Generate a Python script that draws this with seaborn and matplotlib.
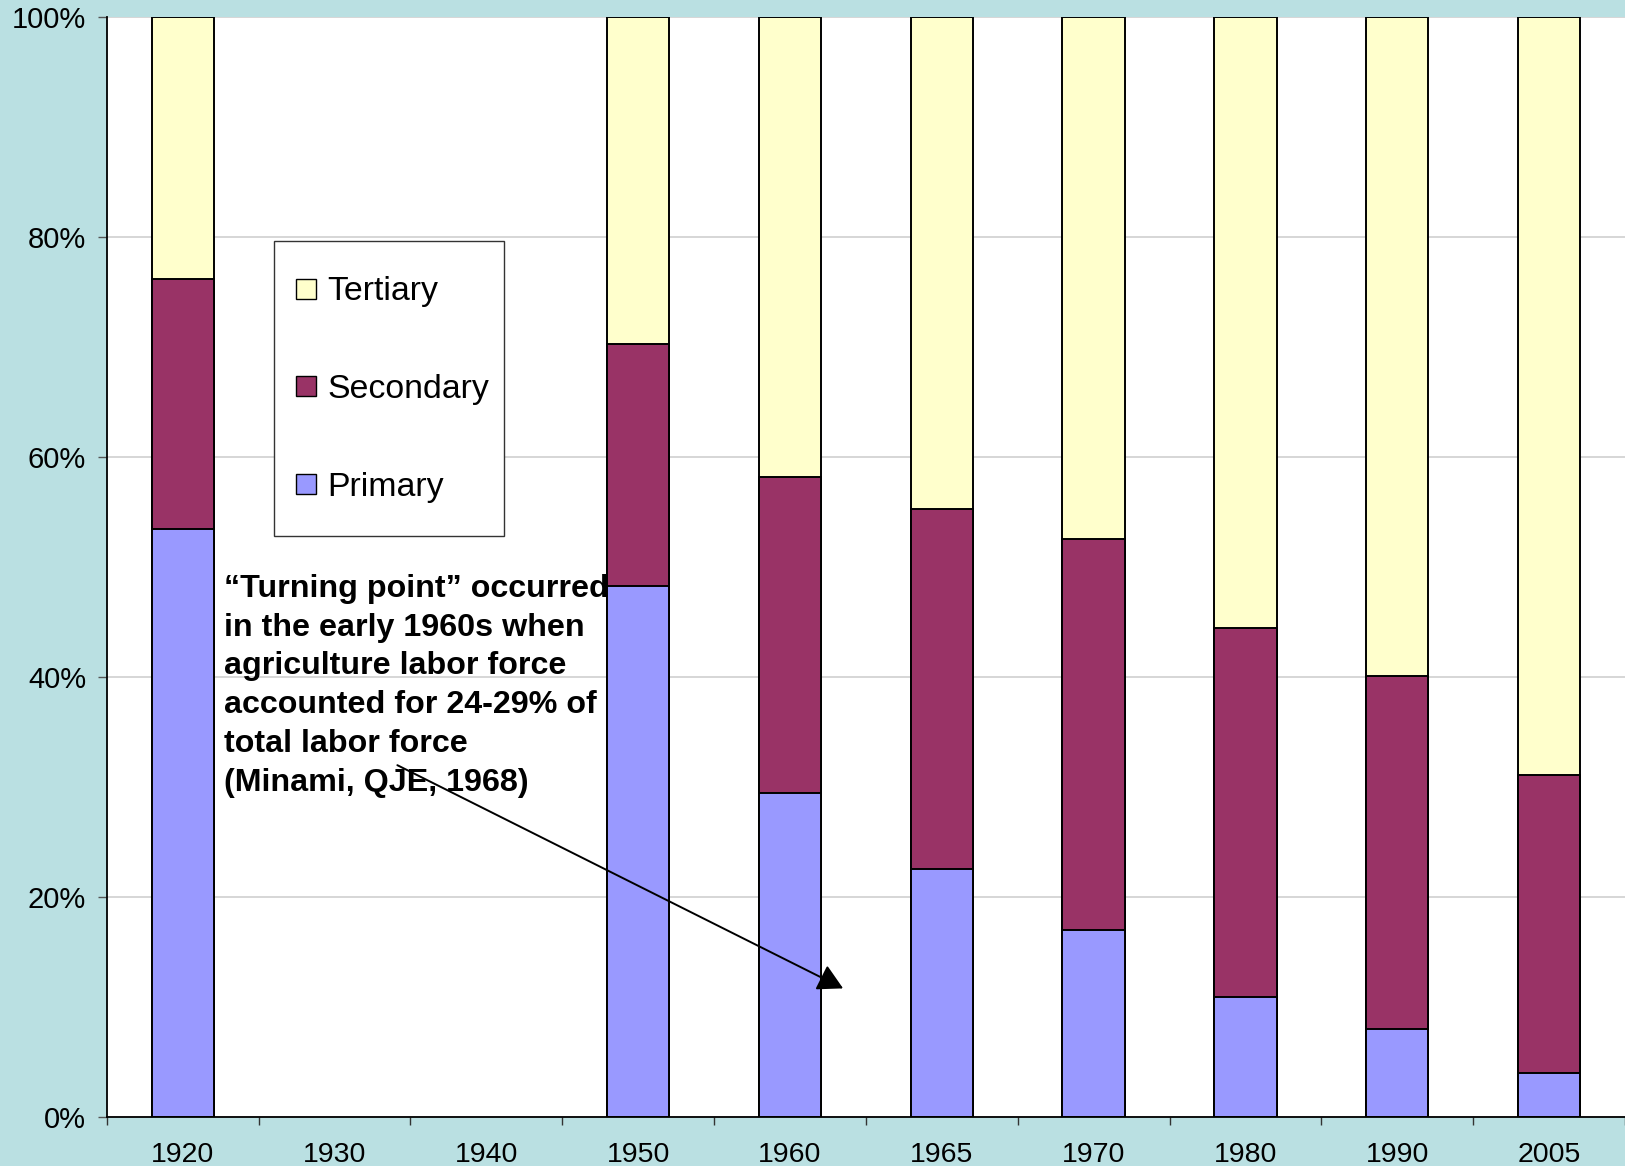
import numpy as np
import pandas as pd
import seaborn as sns
import matplotlib.pyplot as plt
from matplotlib.lines import Line2D
from matplotlib.patches import Rectangle
from matplotlib.ticker import FixedLocator, PercentFormatter

years = ["1920", "1930", "1940", "1950", "1960", "1965", "1970", "1980", "1990", "2005"]
primary = [53.5, np.nan, np.nan, 48.3, 29.5, 22.6, 17.0, 10.9, 8.0, 4.0]
secondary = [22.7, np.nan, np.nan, 22.0, 28.7, 32.7, 35.6, 33.6, 32.1, 27.1]
tertiary = [23.8, np.nan, np.nan, 29.7, 41.8, 44.7, 47.4, 55.5, 59.9, 68.9]

colours = {"Primary": "#9999FF", "Secondary": "#993366", "Tertiary": "#FFFFCC"}

note = ("\u201cTurning point\u201d occurred\nin the early 1960s when\n"
        "agriculture labor force\naccounted for 24-29% of\n"
        "total labor force\n(Minami, QJE, 1968)")

BG = "#BAE0E2"


def stacked_frame():
    df = pd.DataFrame({"year": years, "Primary": primary,
                       "Secondary": secondary, "Tertiary": tertiary})
    df = df.dropna()
    # cumulative tops, drawn tallest first so lower segments sit on top
    df["top_Primary"] = df["Primary"]
    df["top_Secondary"] = df["Primary"] + df["Secondary"]
    df["top_Tertiary"] = df["top_Secondary"] + df["Tertiary"]
    return df


if __name__ == "__main__":
    sns.set_style("white")
    plt.rcParams["font.family"] = ["Liberation Sans", "DejaVu Sans"]
    plt.rcParams["text.color"] = "black"

    fig = plt.figure(figsize=(16.25, 11.66), dpi=100, facecolor=BG)
    ax = fig.add_axes([0.0657, 0.042, 0.9343, 0.943])
    ax.set_facecolor("white")

    df = stacked_frame()
    for s in ["Tertiary", "Secondary", "Primary"]:
        sns.barplot(data=df, x="year", y=f"top_{s}", order=years, ax=ax,
                    color=colours[s], saturation=1, width=0.41,
                    edgecolor="black", linewidth=1.4, zorder=2)

    ax.set_xlim(-0.5, len(years) - 0.5)
    ax.set_ylim(0, 100)
    ax.set_xlabel("")
    ax.set_ylabel("")

    ax.set_axisbelow(True)
    ax.yaxis.set_major_locator(FixedLocator([0, 20, 40, 60, 80, 100]))
    ax.yaxis.set_major_formatter(PercentFormatter(decimals=0))
    ax.grid(axis="y", color="#d0d0d0", linewidth=1.2)
    ax.grid(axis="x", visible=False)

    for side in ["top", "right"]:
        ax.spines[side].set_visible(False)
    for side in ["left", "bottom"]:
        ax.spines[side].set_color("black")
        ax.spines[side].set_linewidth(1.3)

    ax.tick_params(axis="y", which="major", length=6.8, width=1, color="#555555",
                   pad=8, labelsize=21, labelcolor="black", left=True)
    ax.tick_params(axis="x", which="major", length=0, pad=18.2,
                   labelsize=20.5, labelcolor="black")
    ax.xaxis.set_minor_locator(FixedLocator(np.arange(-0.5, len(years), 1.0)))
    ax.tick_params(axis="x", which="minor", length=6, width=1, color="#333333",
                   bottom=True)

    # legend box
    ax.add_patch(Rectangle((0.110, 0.528), 0.1516, 0.269, transform=ax.transAxes,
                           facecolor="white", edgecolor="#333333", linewidth=1,
                           zorder=5))
    handles = [Line2D([], [], linestyle="none", marker="s", markersize=14,
                      markerfacecolor=colours[s], markeredgecolor="black",
                      markeredgewidth=1, label=s)
               for s in ["Tertiary", "Secondary", "Primary"]]
    leg = ax.legend(handles=handles, loc="center left",
                    bbox_to_anchor=(0.1222, 0.6615), frameon=False,
                    fontsize=24.4, borderpad=0, borderaxespad=0,
                    handlelength=0.8, handletextpad=0.24, labelspacing=1.97,
                    labelcolor="black")
    leg.set_zorder(6)

    ax.annotate("", xy=(4.35, 11.7), xytext=(1.414, 32.0),
                arrowprops=dict(arrowstyle="-|>,head_length=0.55,head_width=0.3",
                                color="black", lw=1.4, mutation_scale=28,
                                shrinkA=0, shrinkB=0),
                zorder=7)
    ax.text(0.273, 49.4, note, fontsize=23.2, fontweight="bold", color="black",
            ha="left", va="top", linespacing=1.38, zorder=7)

    fig.savefig("out.png", dpi=100, facecolor=BG)
